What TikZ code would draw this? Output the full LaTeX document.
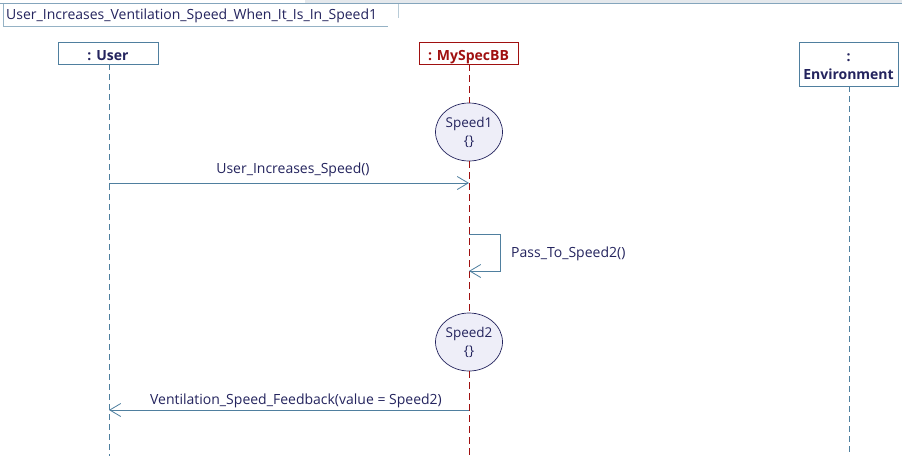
\documentclass[tikz,border=0pt]{standalone}
\usepackage{fontspec}
\setmainfont{Open Sans}
\usetikzlibrary{arrows.meta,shapes.geometric}
\definecolor{lineblue}{HTML}{4F7F9F}
\definecolor{navytext}{HTML}{24245E}
\definecolor{darkred}{HTML}{A01010}
\definecolor{statefill}{HTML}{EEEEF8}
\definecolor{topgray}{HTML}{E4E8EC}
\tikzset{
  lbl/.style={font=\fontsize{14}{16}\selectfont, text=navytext, inner sep=0pt},
  headbox/.style={draw=lineblue, line width=0.8pt, fill=white, font=\fontsize{14}{17}\selectfont\bfseries, text=navytext, inner sep=0pt},
  headtext/.style={font=\fontsize{14}{18}\selectfont\bfseries, text=navytext, inner sep=0pt, align=center},
  lifeline/.style={lineblue, line width=0.6pt, dash pattern=on 6pt off 4pt},
  redlife/.style={darkred, line width=0.6pt, dash pattern=on 7pt off 4pt},
  statenode/.style={ellipse, draw=navytext, line width=0.7pt, fill=statefill, minimum width=67pt, minimum height=58pt, inner sep=0pt, align=center, font=\fontsize{13.5}{18}\selectfont, text=navytext},
  msg/.style={lineblue, line width=0.8pt, -{Straight Barb[length=11pt,width=13pt,line width=0.8pt]}},
}
\begin{document}
\begin{tikzpicture}[x=1pt,y=-1pt]
\useasboundingbox (0,0) rectangle (902,456);
\fill[white] (0,0) rectangle (902,456);
% top frame tab
\fill[topgray] (305,0) rectangle (902,3.5);
\draw[lineblue!70, line width=0.8pt] (0,3.5) -- (902,3.5);
\draw[lineblue!60, line width=0.6pt] (3,4) -- (3,26) -- (388,26);
\draw[lineblue!40, line width=0.6pt] (398,4) -- (398,18);
\node[lbl, anchor=west] (title) at (6,16) {User\_Increases\_Ventilation\_Speed\_When\_It\_Is\_In\_Speed1};
% heads
\node[headbox, minimum width=100pt, minimum height=22pt, text height=14pt, text depth=0pt] (user) at (108,53) {: User};
\node[headbox, draw=darkred, text=darkred, minimum width=99pt, minimum height=22pt, text height=14pt, text depth=0pt] (spec) at (468.5,53) {: MySpecBB};
\node[headbox, minimum width=99pt, minimum height=44pt] (env) at (848.5,64) {};
\node[headtext] (envt) at (848.5,67) {:\\Environment};
% states
\node[statenode] (s1) at (469,132) {Speed1\\\{\}};
\node[statenode] (s2) at (469,342) {Speed2\\\{\}};
% lifeline coordinates
\coordinate (uend) at (109,456);
\coordinate (eend) at (849,456);
\coordinate (send) at (469,456);
\draw[lifeline] (user.south -| uend) -- (uend);
\draw[lifeline] (env.south -| eend) -- (eend);
\draw[redlife] (spec.south -| send) -- (s1.north);
\draw[redlife] (s1.south) -- (s2.north);
\draw[redlife] (s2.south) -- (send);
% messages
\coordinate (m1a) at (109,183);
\coordinate (m1b) at (469,183);
\draw[msg] (m1a) -- node[lbl, above=6pt, xshift=4pt] (m1l) {User\_Increases\_Speed()} (m1b);
\coordinate (m2a) at (469,234);
\coordinate (m2b) at (469,271);
\draw[msg] (m2a) -- (500,234) -- (500,271) -- (m2b);
\node[lbl, anchor=west] (m2l) at (511,254) {Pass\_To\_Speed2()};
\coordinate (m3a) at (469,410);
\coordinate (m3b) at (109,410);
\draw[msg] (m3a) -- node[lbl, above=2pt, xshift=7pt] (m3l) {Ventilation\_Speed\_Feedback(value = Speed2)} (m3b);
\end{tikzpicture}
\end{document}
